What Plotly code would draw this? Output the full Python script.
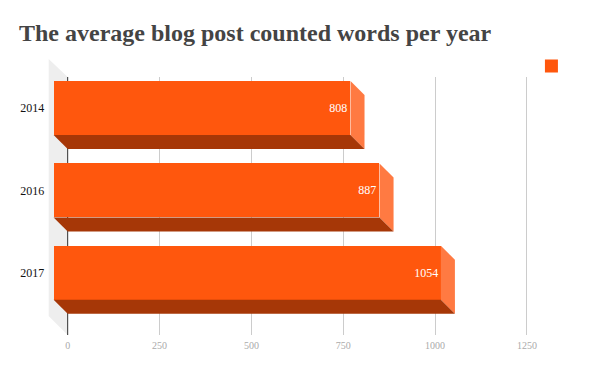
import plotly.graph_objects as go

# Data
categories = ["2014", "2016", "2017"]
words = [808, 887, 1054]
tick_values = [0, 250, 500, 750, 1000, 1250]
title_text = "The average blog post counted words per year"
FRONT, SIDE, BOTTOM = "#FF570D", "#FF7A42", "#A63707"
SERIF = "Liberation Serif"

# Pixel geometry of the pseudo-3D frame
W, H = 600, 371
EW = 593.4                           # width plotly leaves for the axes
PX0, PX_PER_UNIT = 67.5, 0.3664      # x pixel of value 0, pixels per value
L, R = 48, 530                       # horizontal plot extent
GRID_T, GRID_B = 77, 335             # back plane
MARK_T, MARK_B = 55, 349             # marks subplot extent
ROW0, ROW_STEP = 108, 82.4           # first row centre, row spacing
BAR_H, DEPTH = 54, 14                # bar height and bar depth (px)
WALL_DEPTH = 19

xv = lambda px: (px - PX0) / PX_PER_UNIT
yv = lambda px: (px - ROW0) / ROW_STEP
dx = DEPTH / PX_PER_UNIT
dy = DEPTH / ROW_STEP
hw = BAR_H / ROW_STEP / 2
idx = list(range(len(categories)))

fig = go.Figure()

# Invisible trace so the back-plane axes (grid, value ticks) are drawn
fig.add_trace(go.Scatter(x=[tick_values[0], tick_values[-1]], y=[0, 1], xaxis="x", yaxis="y",
                         mode="markers", marker=dict(opacity=0), hoverinfo="skip", showlegend=False))

# Left wall
wx = WALL_DEPTH / PX_PER_UNIT
fig.add_trace(go.Scatter(
    x=[0, -wx, -wx, 0, 0],
    y=[yv(GRID_T), yv(GRID_T - 18), yv(GRID_B - 19), yv(GRID_B), yv(GRID_T)],
    xaxis="x2", yaxis="y2", mode="lines", fill="toself", fillcolor="#EEEEEE",
    line=dict(width=0), hoverinfo="skip", showlegend=False))
# zero line above the wall
fig.add_trace(go.Scatter(
    x=[0, 0], y=[yv(GRID_T), yv(GRID_B)], xaxis="x2", yaxis="y2", mode="lines",
    line=dict(color="#333333", width=1), hoverinfo="skip", showlegend=False))

# Side and bottom faces, from the values
for i, v in zip(idx, words):
    fx = v - dx
    fig.add_trace(go.Scatter(
        x=[fx, v, v, fx, fx],
        y=[i - hw, i - hw + dy, i + hw + dy, i + hw, i - hw],
        xaxis="x3", yaxis="y3", mode="lines", fill="toself", fillcolor=SIDE,
        line=dict(width=0), hoverinfo="skip", showlegend=False))
    fig.add_trace(go.Scatter(
        x=[-dx, fx, v, 0, -dx],
        y=[i + hw, i + hw, i + hw + dy, i + hw + dy, i + hw],
        xaxis="x3", yaxis="y3", mode="lines", fill="toself", fillcolor=BOTTOM,
        line=dict(width=0), hoverinfo="skip", showlegend=False))

# Front faces
fig.add_trace(go.Bar(
    y=idx, x=words, base=[-dx] * len(words), orientation="h", width=BAR_H / ROW_STEP,
    marker=dict(color=FRONT, line=dict(width=0)), xaxis="x3", yaxis="y3",
    text=[str(v) for v in words], textposition="inside", insidetextanchor="end",
    textangle=0, textfont=dict(family=SERIF, size=12, color="#FFFFFF"),
    showlegend=False))

# Legend swatch (unnamed series)
fig.add_trace(go.Scatter(
    x=[None], y=[None], xaxis="x3", yaxis="y3", mode="markers", name=" ",
    marker=dict(symbol="square", size=11, color=FRONT, line=dict(color=FRONT, width=2))))

x_range = [xv(L), xv(R)]
x_domain = [L / EW, R / EW]
y_mark_range = [yv(MARK_B), yv(MARK_T)]
y_mark_domain = [1 - MARK_B / H, 1 - MARK_T / H]
fig.update_layout(
    width=W, height=H, autosize=False, margin=dict(l=0, r=0, t=0, b=0),
    paper_bgcolor="#FFFFFF", plot_bgcolor="rgba(0,0,0,0)",
    font=dict(family=SERIF),
    title=dict(text=f"<b>{title_text}</b>", x=19 / W, xanchor="left", y=1 - 33 / H, yanchor="middle",
               font=dict(family=SERIF, size=24, color="#444444")),
    bargap=0,
    legend=dict(x=530 / EW, y=1 - 66 / H, xanchor="left", yanchor="middle",
                bgcolor="rgba(0,0,0,0)", font=dict(size=12)),
    xaxis=dict(domain=x_domain, range=x_range, autorange=False, tickvals=tick_values,
               ticks="", showgrid=True, gridcolor="#CCCCCC", gridwidth=1, zeroline=False, ticklabelstandoff=3,
               showline=False, tickfont=dict(family=SERIF, size=10, color="#AAAAAA"), anchor="y"),
    yaxis=dict(domain=[1 - GRID_B / H, 1 - GRID_T / H], range=[0, 1], autorange=False, showgrid=False,
               zeroline=False, showticklabels=False, ticks="", anchor="x"),
    xaxis2=dict(domain=x_domain, range=x_range, autorange=False, visible=False, anchor="y2"),
    yaxis2=dict(domain=y_mark_domain, range=y_mark_range, autorange=False, visible=False, anchor="x2"),
    xaxis3=dict(domain=x_domain, range=x_range, autorange=False, visible=False, anchor="y3"),
    yaxis3=dict(domain=y_mark_domain, range=y_mark_range, autorange=False,
                tickvals=idx, ticktext=categories, showgrid=False, zeroline=False, ticks="",
                ticklabelstandoff=3, showline=False,
                tickfont=dict(family=SERIF, size=12, color="#111111"), anchor="x3"),
)

fig.write_html("out.html", config=dict(displayModeBar=False),
               post_script="document.body.style.margin='0';")
